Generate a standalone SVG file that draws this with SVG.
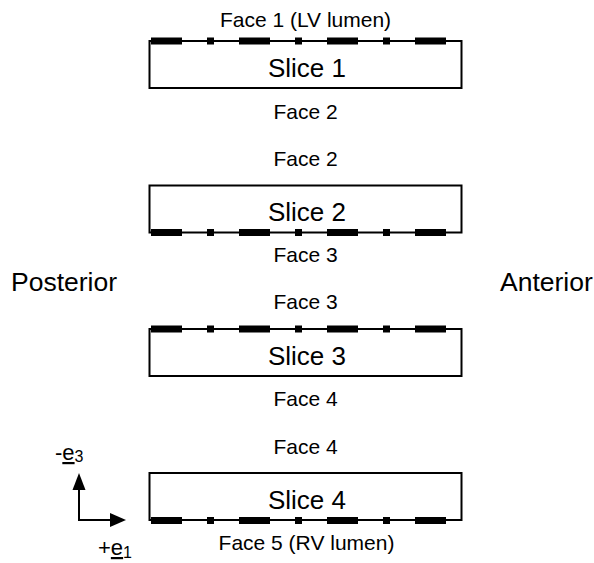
<svg xmlns="http://www.w3.org/2000/svg" width="594" height="563" viewBox="0 0 594 563">
<style>
text{font-family:"Liberation Sans",Arial,sans-serif;fill:#000}
.face{font-size:21px;text-anchor:middle}
.slice{font-size:26px;text-anchor:middle}
.side{font-size:26.5px}
.ax{font-size:22px}
.box{fill:#fff;stroke:#000;stroke-width:2}
.dash{stroke:#000;stroke-width:7;stroke-dasharray:31 25 7 25;fill:none}
.axis{stroke:#000;stroke-width:2;fill:none}
</style>
<rect width="594" height="563" fill="#fff"/>
<g id="slice1">
<rect class="box" x="149.5" y="41" width="312" height="47"/>
<line class="dash" x1="151" y1="41" x2="447" y2="41"/>
<text class="slice" x="307" y="76.5">Slice 1</text>
</g>
<g id="slice2">
<rect class="box" x="149.5" y="185.5" width="312" height="47"/>
<line class="dash" x1="151" y1="232.5" x2="447" y2="232.5"/>
<text class="slice" x="307" y="221">Slice 2</text>
</g>
<g id="slice3">
<rect class="box" x="149.5" y="329" width="312" height="47"/>
<line class="dash" x1="151" y1="329" x2="447" y2="329"/>
<text class="slice" x="307" y="364.5">Slice 3</text>
</g>
<g id="slice4">
<rect class="box" x="149.5" y="473" width="312" height="47"/>
<line class="dash" x1="151" y1="520.5" x2="447" y2="520.5"/>
<text class="slice" x="307" y="508.5">Slice 4</text>
</g>
<g id="labels">
<text class="face" x="305.5" y="26.5">Face 1 (LV lumen)</text>
<text class="face" x="305.5" y="118.5">Face 2</text>
<text class="face" x="305.5" y="166">Face 2</text>
<text class="face" x="305.5" y="261.5">Face 3</text>
<text class="face" x="305.5" y="309">Face 3</text>
<text class="face" x="305.5" y="406">Face 4</text>
<text class="face" x="305.5" y="453.5">Face 4</text>
<text class="face" x="306.5" y="550">Face 5 (RV lumen)</text>
<text class="side" x="11" y="290.5">Posterior</text>
<text class="side" x="500" y="290.5">Anterior</text>
</g>
<g id="axes">
<polyline class="axis" points="79,489 79,520 112,520"/>
<polygon points="79,473 72.5,490 85.5,490"/>
<polygon points="126,520 110,513 110,527"/>
<text class="ax" x="55" y="460">-<tspan text-decoration="underline">e</tspan><tspan font-size="16" dy="2">3</tspan></text>
<text class="ax" x="98" y="555">+<tspan text-decoration="underline">e</tspan><tspan font-size="16" dy="3">1</tspan></text>
</g>
</svg>
